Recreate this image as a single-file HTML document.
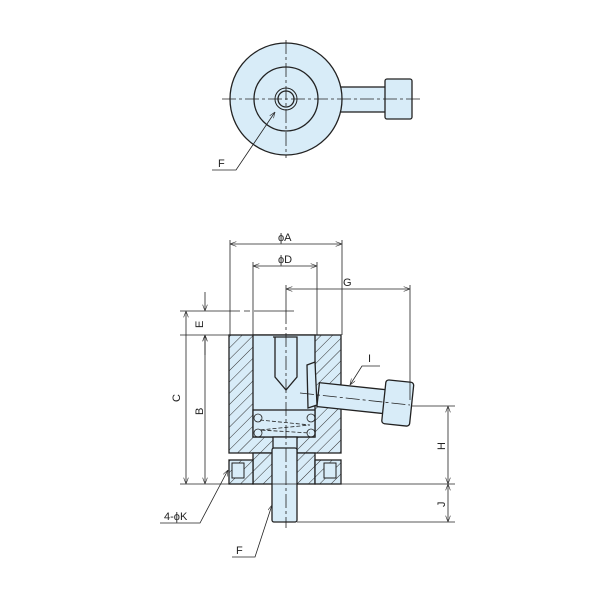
<!DOCTYPE html><html><head><style>body{margin:0;background:#fff}svg{display:block}text{font-family:"Liberation Sans",sans-serif;font-size:11px;fill:#222}</style></head><body>
<svg width="600" height="600" viewBox="0 0 600 600">
<defs><pattern id="h" width="8" height="8" patternUnits="userSpaceOnUse" patternTransform="rotate(45)"><rect width="8" height="8" fill="#d8ecf8"/><line x1="0" y1="0" x2="0" y2="8" stroke="#333" stroke-width="1"/></pattern>
<marker id="a" markerWidth="8" markerHeight="6" refX="8" refY="3" orient="auto-start-reverse"><path d="M0,0L8,3L0,6" fill="none" stroke="#333" stroke-width="0.8"/></marker></defs>
<g stroke="#222" stroke-width="1.3" fill="#d8ecf8">
<rect x="340" y="87" width="46" height="25" />
<rect x="385" y="79" width="27" height="40" rx="2"/>
<circle cx="286" cy="99" r="56"/>
<circle cx="286" cy="99" r="32"/>
<circle cx="286" cy="99" r="11" stroke-width="1"/>
<circle cx="286" cy="99" r="8"/>
</g>
<g stroke="#222" stroke-width="0.8" fill="none">
<line x1="222" y1="99" x2="420" y2="99" stroke-dasharray="14,3,3,3"/>
<line x1="286" y1="40" x2="286" y2="158" stroke-dasharray="14,3,3,3"/>
<polyline points="212,170 236,170 275,112" marker-end="url(#a)"/>
</g>
<text x="218" y="167">F</text>
<g stroke="#222" stroke-width="1.3">
<rect x="229" y="335" width="112" height="118" fill="url(#h)"/>
<rect x="253" y="453" width="62" height="31" fill="url(#h)"/>
<rect x="229" y="460" width="24" height="24" fill="url(#h)"/>
<rect x="315" y="460" width="26" height="24" fill="url(#h)"/>
<rect x="253" y="335" width="62" height="102" fill="#d8ecf8"/>
<rect x="253" y="410" width="62" height="27" fill="#d8ecf8"/>
<rect x="273" y="437" width="24" height="16" fill="#d8ecf8"/>
<path d="M273,337H297V377L286,390L275,377V337" fill="#d8ecf8"/>
<rect x="272" y="448" width="25" height="74" rx="2" fill="#d8ecf8"/>
<rect x="232" y="463" width="12" height="15" fill="#d8ecf8" stroke-width="1"/>
<rect x="324" y="463" width="12" height="15" fill="#d8ecf8" stroke-width="1"/>
<path d="M307,365L315,362L317,405L308,408Z" fill="#d8ecf8"/>
<g transform="rotate(6 350 398)">
<rect x="318" y="386" width="68" height="24" fill="#d8ecf8"/>
<rect x="384" y="376" width="28" height="44" rx="3" fill="#d8ecf8"/>
</g>
</g>
<g stroke="#222" stroke-width="0.8" fill="none">
<circle cx="258" cy="418" r="4"/><circle cx="311" cy="418" r="4"/><circle cx="258" cy="433" r="4"/><circle cx="311" cy="433" r="4"/>
<polyline points="260,420 310,425 260,430 310,433" stroke-dasharray="4,2"/>
<line x1="286" y1="310" x2="286" y2="528" stroke-dasharray="14,3,3,3"/>
<line x1="300" y1="393" x2="410" y2="405" stroke-dasharray="14,3,3,3"/>
<line x1="230" y1="240" x2="230" y2="335"/><line x1="342" y1="240" x2="342" y2="335"/>
<line x1="253" y1="262" x2="253" y2="335"/><line x1="317" y1="262" x2="317" y2="335"/>
<line x1="286" y1="285" x2="286" y2="310"/><line x1="410" y1="285" x2="410" y2="400"/>
<line x1="230" y1="244" x2="342" y2="244" marker-start="url(#a)" marker-end="url(#a)"/>
<line x1="253" y1="266" x2="317" y2="266" marker-start="url(#a)" marker-end="url(#a)"/>
<line x1="286" y1="289" x2="410" y2="289" marker-start="url(#a)" marker-end="url(#a)"/>
<line x1="180" y1="311" x2="330" y2="311" stroke-dasharray="60,4,6,4,40"/>
<line x1="180" y1="335" x2="230" y2="335"/>
<line x1="180" y1="484" x2="455" y2="484"/>
<line x1="297" y1="522" x2="455" y2="522"/>
<line x1="411" y1="406" x2="455" y2="406"/>
<line x1="186" y1="311" x2="186" y2="484" marker-start="url(#a)" marker-end="url(#a)"/>
<line x1="205" y1="335" x2="205" y2="484" marker-start="url(#a)" marker-end="url(#a)"/>
<line x1="205" y1="292" x2="205" y2="311" marker-end="url(#a)"/>
<line x1="205" y1="355" x2="205" y2="335" marker-end="url(#a)"/>
<line x1="448" y1="406" x2="448" y2="484" marker-start="url(#a)" marker-end="url(#a)"/>
<line x1="448" y1="484" x2="448" y2="522" marker-start="url(#a)" marker-end="url(#a)"/>
<polyline points="380,366 362,366 350,385" marker-end="url(#a)"/>
<polyline points="160,523 200,523 228,470" marker-end="url(#a)"/>
<polyline points="232,557 255,557 272,505" marker-end="url(#a)"/>
</g>
<text x="278" y="241">ϕA</text><text x="278" y="263">ϕD</text><text x="343" y="286">G</text>
<text x="368" y="362">I</text>
<text transform="translate(180,402) rotate(-90)">C</text>
<text transform="translate(203,415) rotate(-90)">B</text>
<text transform="translate(203,328) rotate(-90)">E</text>
<text transform="translate(445,450) rotate(-90)">H</text>
<text transform="translate(445,507) rotate(-90)">J</text>
<text x="164" y="520">4-ϕK</text>
<text x="236" y="554">F</text>
</svg></body></html>
